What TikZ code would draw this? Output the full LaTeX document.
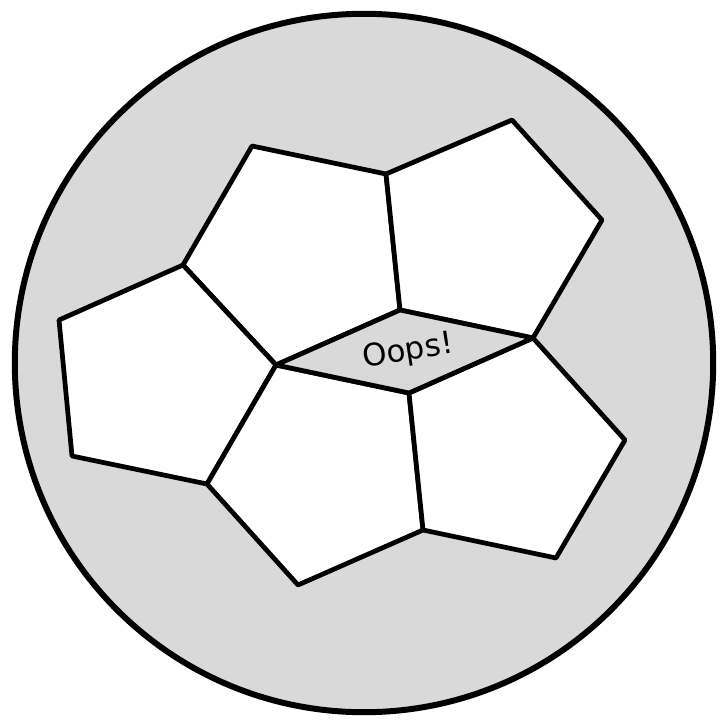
\documentclass[tikz,border=0pt]{standalone}
\usepackage{fontspec}
\setmainfont{DejaVu Sans}
\definecolor{ballgray}{gray}{0.85}
\begin{document}
\begin{tikzpicture}[x=0.01cm,y=-0.01cm,
    patch/.style={draw,line width=1.35pt,line join=round,fill=white}]
    \useasboundingbox (0,0) rectangle (728,728);
    % ball
    \draw [line width=1.7pt,fill=ballgray] (364,363) circle [radius=3.49cm];
    % corners of the middle patch
    \coordinate (a) at (276,365);
    \coordinate (b) at (400,310);
    \coordinate (c) at (533,338);
    \coordinate (d) at (409,393);
    % outer corners
    \coordinate (p1) at (183,265);
    \coordinate (p2) at (252,146);
    \coordinate (p3) at (386,174);
    \coordinate (q1) at (512,120);
    \coordinate (q2) at (602,220);
    \coordinate (r1) at (59,320);
    \coordinate (r2) at (207,484);
    \coordinate (r3) at (72,456);
    \coordinate (s1) at (423,530);
    \coordinate (s2) at (298,585);
    \coordinate (t1) at (625,440);
    \coordinate (t2) at (556,558);
    % pentagons
    \draw [patch] (p1) -- (p2) -- (p3) -- (b) -- (a) -- cycle;
    \draw [patch] (p3) -- (q1) -- (q2) -- (c) -- (b) -- cycle;
    \draw [patch] (r1) -- (p1) -- (a) -- (r2) -- (r3) -- cycle;
    \draw [patch] (a) -- (d) -- (s1) -- (s2) -- (r2) -- cycle;
    \draw [patch] (c) -- (t1) -- (t2) -- (s1) -- (d) -- cycle;
    % the odd one
    \draw [patch,fill=ballgray] (a) -- (b) -- (c) -- (d) -- cycle;
    \node [rotate=9,font=\fontsize{8.8pt}{10pt}\selectfont] (oops) at (408,352) {Oops!};
\end{tikzpicture}
\end{document}
